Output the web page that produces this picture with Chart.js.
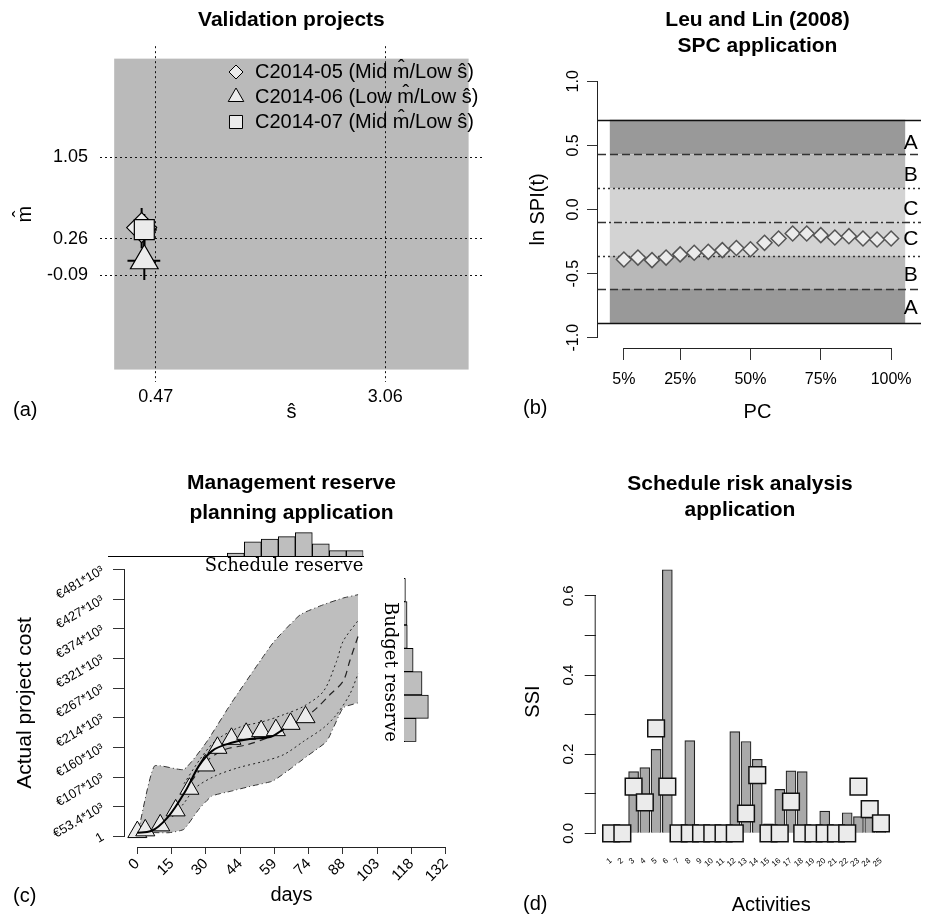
<!DOCTYPE html>
<html>
<head>
<meta charset="utf-8">
<script src="https://cdn.jsdelivr.net/npm/chart.js@4.4.1/dist/chart.umd.min.js"></script>
<style>
  html, body { margin: 0; padding: 0; background: #fff; }
  body { position: relative; width: 926px; height: 918px; overflow: hidden; }
  canvas { position: absolute; }
</style>
</head>
<body>
<canvas id="validation" width="500" height="430" style="left:0px;top:0px"></canvas>
<canvas id="spc" width="456" height="430" style="left:470px;top:0px"></canvas>
<canvas id="reserve" width="470" height="468" style="left:0px;top:450px"></canvas>
<canvas id="scheduleHist" width="280" height="60" style="left:100px;top:520px"></canvas>
<canvas id="budgetHist" width="50" height="190" style="left:380px;top:560px"></canvas>
<canvas id="sra" width="440" height="468" style="left:520px;top:450px"></canvas>
<script>
// (a) validation projects
const aSeries = ['C2014-05 (Mid m\u0302/Low \u015D)', 'C2014-06 (Low m\u0302/Low \u015D)', 'C2014-07 (Mid m\u0302/Low \u015D)'];
const aSHat = [0.31, 0.34, 0.34];
const aMHat = [0.37, 0.05, 0.35];
const aSLow = [0.15, 0.15, 0.2];
const aSHigh = [0.48, 0.52, 0.48];
const aMLow = [0.17, -0.135, 0.2];
const aMHigh = [0.56, 0.25, 0.5];
const aXTicks = [0.47, 3.06];
const aXTickLabels = ['0.47', '3.06'];
const aYTicks = [-0.09, 0.26, 1.05];
const aYTickLabels = ['-0.09', '0.26', '1.05'];
const aRegion = { sMin: 0, sMax: 4, mMin: -1, mMax: 2 };

// (b) SPC chart
const bPC = [5, 10, 15, 20, 25, 30, 35, 40, 45, 50, 55, 60, 65, 70, 75, 80, 85, 90, 95, 100];
const bLnSPI = [-0.39, -0.375, -0.395, -0.375, -0.35, -0.337, -0.33, -0.317, -0.30, -0.31,
                -0.26, -0.226, -0.187, -0.187, -0.20, -0.218, -0.208, -0.226, -0.234, -0.226];
const bXTicks = [5, 25, 50, 75, 100];
const bYTicks = [-1, -0.5, 0, 0.5, 1];
const bLimits = [0.70, 0.43, 0.165, -0.095, -0.36, -0.62, -0.885];
const bZoneLabels = ['A', 'B', 'C', 'C', 'B', 'A'];
const bZoneLabelY = [0.52, 0.27, 0.0, -0.23, -0.51, -0.77];

// (c) management reserve
const cDayTicks = [0, 14.67, 29.33, 44, 58.67, 73.33, 88, 102.67, 117.33, 132];
const cDayLabels = ['0', '15', '30', '44', '59', '74', '88', '103', '118', '132'];
const cCostTicks = [0, 53.4, 106.8, 160.2, 213.6, 267, 320.4, 373.8, 427.2, 480.6];
const cCostLabels = ['1', '\u20AC53.4*10\u00B3', '\u20AC107*10\u00B3', '\u20AC160*10\u00B3', '\u20AC214*10\u00B3',
                     '\u20AC267*10\u00B3', '\u20AC321*10\u00B3', '\u20AC374*10\u00B3', '\u20AC427*10\u00B3', '\u20AC481*10\u00B3'];
const cActualDays = [0, 3.4, 9.8, 16.4, 22.3, 29.1, 34.3, 40.3, 46.6, 53.0, 59.3, 65.6, 72.0];
const cActualCost = [7.7, 10.8, 19.8, 46.8, 85.8, 127.8, 159.6, 175.8, 184.8, 189.6, 191.4, 202.8, 214.8];
const cFitDays = [0, 5.9, 12.9, 20.6, 26.3, 31.9, 40.3, 48.8, 57.2, 62.8];
const cFitCost = [6.6, 9.6, 33.6, 81.6, 126.6, 153.6, 168.6, 175.8, 179.4, 193.8];
const cMedDays = [20, 25, 30.5, 37.5, 47.4, 57.2, 62.8, 69.8, 76.9, 82.5, 88.1, 90.9, 94.5];
const cMedCost = [80, 110, 138.6, 156.6, 165.6, 180.5, 195.6, 207.6, 231.6, 255.6, 279.6, 315.6, 360.6];
const cHiDays = [20, 27, 33.3, 43.1, 54.4, 62.8, 71.3, 79.7, 85.3, 88.1, 94.5];
const cHiCost = [95, 140, 171.6, 195.6, 207.6, 219.6, 234.6, 261.6, 315.6, 351.6, 389];
const cLoDays = [15, 20, 24.9, 33.2, 43.1, 54.4, 62.8, 71.3, 79.7, 85.3, 90.9, 94.5];
const cLoCost = [35, 60, 87.6, 108.6, 123.6, 135.6, 147.6, 171.6, 195.6, 219.6, 255.6, 293];
const cBandHiDays = [0, 7.3, 19.9, 29.4, 40.3, 53, 58.6, 69.8, 79.7, 88.1, 94.5];
const cBandHiCost = [0, 126.6, 120.6, 168.6, 240.7, 318.6, 351.6, 399.6, 417.6, 429.6, 435.6];
const cBandLoDays = [0, 2.4, 13.6, 19.9, 26.3, 31.9, 40.3, 48.8, 57.9, 64.2, 72.7, 81.1, 88.1, 94.5];
const cBandLoCost = [0, 6.6, 6.6, 12.6, 48.6, 72.6, 81.6, 90.6, 99.6, 117.6, 144.6, 171.6, 231.6, 240.6];
const cSchedBins = ['1', '2', '3', '4', '5', '6', '7', '8', '9', '10', '11', '12', '13', '14', '15'];
const cSchedCounts = [0, 0, 0, 0, 0, 0, 0, 1.2, 6.1, 7.3, 8.3, 10, 5.2, 2.3, 2.3];
const cBudgetBins = ['7', '6', '5', '4', '3', '2', '1'];
const cBudgetCounts = [0.6, 1.3, 1.4, 3.9, 7.7, 10.4, 5.2];

// (d) schedule risk analysis
const dActivities = ['1', '2', '3', '4', '5', '6', '7', '8', '9', '10', '11', '12', '13',
                     '14', '15', '16', '17', '18', '19', '20', '21', '22', '23', '24', '25'];
const dSSIBars = [0, 0, 0.156, 0.166, 0.212, 0.666, 0, 0.234, 0, 0, 0, 0.257, 0.232,
                  0.187, 0.024, 0.111, 0.158, 0.156, 0, 0.056, 0, 0.052, 0.042, 0.04, 0.004];
const dSSIMarks = [0, 0, 0.118, 0.078, 0.265, 0.118, 0, 0, 0, 0, 0, 0, 0.05,
                   0.147, 0, 0, 0.08, 0, 0, 0, 0, 0, 0.118, 0.061, 0.025];
const dYTicks = [0, 0.1, 0.2, 0.3, 0.4, 0.5, 0.6];
const dYTickLabels = ['0.0', '', '0.2', '', '0.4', '', '0.6'];

const SANS = "'Liberation Sans', Arial, Helvetica, sans-serif";
const SERIF = "'DejaVu Serif', serif";
Chart.defaults.font.family = SANS;
Chart.defaults.color = '#000';
Chart.defaults.animation = false;
Chart.defaults.events = [];
Chart.defaults.plugins.legend.display = false;
Chart.defaults.plugins.tooltip.enabled = false;

const pairs = (xs, ys) => xs.map((x, i) => ({ x: x, y: ys[i] }));

// axis line only from first to last tick, like base R
const axisLines = {
  id: 'axisLines',
  afterDatasetsDraw(chart, args, opts) {
    if (!opts.scales) return;
    const { ctx, chartArea } = chart;
    ctx.save();
    ctx.strokeStyle = '#222';
    ctx.lineWidth = 1;
    for (const id of opts.scales) {
      const s = chart.scales[id];
      const a = s.getPixelForValue(s.ticks[0].value);
      const b = s.getPixelForValue(s.ticks[s.ticks.length - 1].value);
      ctx.beginPath();
      if (s.isHorizontal()) {
        ctx.moveTo(a, chartArea.bottom + 0.5);
        ctx.lineTo(b, chartArea.bottom + 0.5);
      } else {
        ctx.moveTo(chartArea.left - 0.5, a);
        ctx.lineTo(chartArea.left - 0.5, b);
      }
      ctx.stroke();
    }
    ctx.restore();
  }
};

// loose text: panel tags and side labels
const notes = {
  id: 'notes',
  afterDraw(chart, args, opts) {
    if (!opts.items) return;
    const ctx = chart.ctx;
    for (const n of opts.items) {
      ctx.save();
      ctx.font = n.font || ('20px ' + SANS);
      ctx.fillStyle = '#000';
      ctx.textAlign = n.align || 'left';
      ctx.textBaseline = 'middle';
      ctx.translate(n.x, n.y);
      if (n.rotation) ctx.rotate(n.rotation * Math.PI / 180);
      ctx.fillText(n.text, 0, 0);
      ctx.restore();
    }
  }
};
Chart.register(axisLines, notes);

function drawSymbol(ctx, style, x, y, r) {
  ctx.beginPath();
  if (style === 'rectRot') {
    ctx.moveTo(x, y - r); ctx.lineTo(x + r, y); ctx.lineTo(x, y + r); ctx.lineTo(x - r, y);
  } else if (style === 'triangle') {
    ctx.moveTo(x, y - r); ctx.lineTo(x + r * 0.866, y + r / 2); ctx.lineTo(x - r * 0.866, y + r / 2);
  } else {
    const h = r * Math.SQRT1_2;
    ctx.rect(x - h, y - h, 2 * h, 2 * h);
  }
  ctx.closePath();
  ctx.fillStyle = '#ebebeb';
  ctx.fill();
  ctx.strokeStyle = '#000';
  ctx.lineWidth = 1;
  ctx.stroke();
}

// ---------- (a) ----------
const aStyles = ['rectRot', 'triangle', 'rect'];
const aRadius = [15, 16, 14.1];
const aLegendRadius = [7, 9, 9.2];

const aData = [];
[2, 1, 0].forEach(i => aData.push({
  label: aSeries[i],
  data: [{ x: aSHat[i], y: aMHat[i] }],
  pointStyle: aStyles[i],
  pointRadius: aRadius[i],
  backgroundColor: '#ebebeb',
  borderColor: '#000',
  borderWidth: 1.2
}));
aSeries.forEach((s, i) => {
  aData.push({ data: [{ x: aSLow[i], y: aMHat[i] }, { x: aSHigh[i], y: aMHat[i] }],
    showLine: true, pointRadius: 0, borderColor: '#000', borderWidth: 2 });
  aData.push({ data: [{ x: aSHat[i], y: aMLow[i] }, { x: aSHat[i], y: aMHigh[i] }],
    showLine: true, pointRadius: 0, borderColor: '#000', borderWidth: 2 });
});

const aRegionPlugin = {
  id: 'aRegion',
  beforeDraw(chart) {
    const { ctx, scales: { x, y } } = chart;
    const l = x.getPixelForValue(aRegion.sMin), r = x.getPixelForValue(aRegion.sMax);
    const t = y.getPixelForValue(aRegion.mMax), b = y.getPixelForValue(aRegion.mMin);
    ctx.save();
    ctx.fillStyle = '#bababa';
    ctx.fillRect(l, t, r - l, b - t);
    ctx.restore();
  }
};

const aLegend = {
  id: 'aLegend',
  afterDraw(chart) {
    const ctx = chart.ctx;
    const rows = [72, 97, 122];
    ctx.save();
    aSeries.forEach((label, i) => {
      drawSymbol(ctx, aStyles[i], 236, rows[i], aLegendRadius[i]);
      ctx.font = '20px ' + SANS;
      ctx.textBaseline = 'middle';
      ctx.textAlign = 'left';
      ctx.fillStyle = '#000';
      ctx.fillText(label, 255, rows[i]);
    });
    ctx.restore();
  }
};

new Chart(document.getElementById('validation'), {
  type: 'scatter',
  data: { datasets: aData },
  options: {
    responsive: false,
    layout: { padding: { left: 0, right: 7, top: 0, bottom: 0 } },
    plugins: {
      title: { display: true, text: 'Validation projects', fullSize: false,
        font: { size: 21, weight: 'bold' }, padding: { top: 8, bottom: 13 } },
      notes: { items: [{ text: '(a)', x: 13, y: 410 }] }
    },
    scales: {
      x: {
        type: 'linear', min: -0.16, max: 4.16,
        afterBuildTicks: s => { s.ticks = aXTicks.map(v => ({ value: v })); },
        ticks: { font: { size: 18 }, padding: 4, maxRotation: 0, minRotation: 0,
          callback: (v, i) => aXTickLabels[i] },
        grid: { color: '#111', lineWidth: 1, drawTicks: false },
        border: { display: false, dash: [2, 3] },
        title: { display: true, text: '\u015D', font: { size: 20 }, padding: { top: 0, bottom: 6 } },
        afterFit: s => { s.height = 48; }
      },
      y: {
        type: 'linear', min: -1.12, max: 2.12,
        afterBuildTicks: s => { s.ticks = aYTicks.map(v => ({ value: v })); },
        ticks: { font: { size: 18 }, padding: 12, callback: (v, i) => aYTickLabels[i] },
        grid: { color: '#111', lineWidth: 1, drawTicks: false },
        border: { display: false, dash: [2, 3] },
        title: { display: true, text: 'm\u0302', font: { size: 20 }, padding: { top: 13, bottom: 0 } },
        afterFit: s => { s.width = 100; }
      }
    }
  },
  plugins: [aRegionPlugin, aLegend]
});

// ---------- (b) ----------
const bZoneColors = ['#999999', '#b8b8b8', '#d3d3d3', '#d3d3d3', '#b8b8b8', '#999999'];
const bLineDash = [[], [8, 4], [2, 3], [8, 3, 2, 3], [2, 3], [8, 4], []];
const bLineColor = ['#111', '#333', '#333', '#333', '#333', '#333', '#111'];

const bZones = {
  id: 'spcZones',
  beforeDraw(chart) {
    const { ctx, scales: { x, y } } = chart;
    const l = x.getPixelForValue(0), r = x.getPixelForValue(105);
    ctx.save();
    for (let i = 0; i < bLimits.length - 1; i++) {
      const t = y.getPixelForValue(bLimits[i]), b = y.getPixelForValue(bLimits[i + 1]);
      ctx.fillStyle = bZoneColors[i];
      ctx.fillRect(l, t, r - l, b - t);
    }
    ctx.restore();
  },
  beforeDatasetsDraw(chart) {
    const { ctx, chartArea, scales: { y } } = chart;
    ctx.save();
    bLimits.forEach((v, i) => {
      const py = Math.round(y.getPixelForValue(v)) + 0.5;
      ctx.beginPath();
      ctx.setLineDash(bLineDash[i]);
      ctx.strokeStyle = bLineColor[i];
      ctx.lineWidth = 1.6;
      ctx.moveTo(chartArea.left, py);
      ctx.lineTo(chartArea.right + 4, py);
      ctx.stroke();
    });
    ctx.restore();
  },
  afterDatasetsDraw(chart) {
    const { ctx, scales: { x, y } } = chart;
    ctx.save();
    ctx.font = '21px ' + SANS;
    ctx.fillStyle = '#000';
    ctx.textAlign = 'center';
    ctx.textBaseline = 'middle';
    bZoneLabels.forEach((t, i) => ctx.fillText(t, x.getPixelForValue(107), y.getPixelForValue(bZoneLabelY[i])));
    ctx.restore();
  }
};

new Chart(document.getElementById('spc'), {
  type: 'scatter',
  data: {
    datasets: [{
      label: 'ln SPI(t)',
      data: pairs(bPC, bLnSPI),
      pointStyle: 'rectRot',
      pointRadius: 7.5,
      backgroundColor: '#ebebeb',
      borderColor: '#555',
      borderWidth: 1.5
    }]
  },
  options: {
    responsive: false,
    layout: { padding: { left: 0, right: 2, top: 0, bottom: 0 } },
    plugins: {
      title: { display: true, text: ['Leu and Lin (2008)', 'SPC application'], fullSize: false,
        font: { size: 21, weight: 'bold', lineHeight: 1.2 }, padding: { top: 8, bottom: 12.6 } },
      axisLines: { scales: ['x', 'y'] },
      notes: { items: [{ text: '(b)', x: 53, y: 408 }] }
    },
    scales: {
      x: {
        type: 'linear', min: -4.2, max: 109.2,
        afterBuildTicks: s => { s.ticks = bXTicks.map(v => ({ value: v })); },
        ticks: { font: { size: 16 }, padding: 10, maxRotation: 0, minRotation: 0, callback: v => v + '%' },
        grid: { drawOnChartArea: false, color: '#333', tickLength: 12 },
        border: { display: false },
        title: { display: true, text: 'PC', font: { size: 20 }, padding: { top: 0, bottom: 6 } },
        afterFit: s => { s.height = 82; }
      },
      y: {
        type: 'linear', min: -1.08, max: 1.08,
        afterBuildTicks: s => { s.ticks = bYTicks.map(v => ({ value: v })); },
        ticks: { font: { size: 16 }, padding: 0, minRotation: 90, maxRotation: 90, crossAlign: 'center',
          callback: v => v.toFixed(1) },
        grid: { drawOnChartArea: false, color: '#333', tickLength: 11 },
        border: { display: false },
        title: { display: true, text: 'ln SPI(t)', font: { size: 20 }, padding: { top: 56, bottom: 0 } },
        afterFit: s => { s.width = 128; }
      }
    }
  },
  plugins: [bZones]
});

// ---------- (c) ----------
const bandLine = { borderColor: '#333', borderWidth: 1, borderDash: [1, 3, 6, 3], pointRadius: 0, tension: 0.15 };

new Chart(document.getElementById('reserve'), {
  type: 'line',
  data: {
    datasets: [
      { label: 'fit', data: pairs(cFitDays, cFitCost), borderColor: '#000', borderWidth: 2,
        pointRadius: 0, cubicInterpolationMode: 'monotone', fill: false },
      { label: 'Actual project cost', data: pairs(cActualDays, cActualCost), showLine: false,
        pointStyle: 'triangle', pointRadius: 11, backgroundColor: '#ebebeb', borderColor: '#000',
        borderWidth: 1, fill: false },
      { label: 'median', data: pairs(cMedDays, cMedCost), borderColor: '#222', borderWidth: 1.2,
        borderDash: [7, 5], pointRadius: 0, tension: 0.3, fill: false },
      { label: 'upper', data: pairs(cHiDays, cHiCost), borderColor: '#222', borderWidth: 1,
        borderDash: [2, 3], pointRadius: 0, tension: 0.3, fill: false },
      { label: 'lower', data: pairs(cLoDays, cLoCost), borderColor: '#222', borderWidth: 1,
        borderDash: [2, 3], pointRadius: 0, tension: 0.3, fill: false },
      Object.assign({ label: 'band max', data: pairs(cBandHiDays, cBandHiCost), fill: '+1',
        backgroundColor: '#bebebe' }, bandLine),
      Object.assign({ label: 'band min', data: pairs(cBandLoDays, cBandLoCost), fill: false }, bandLine)
    ]
  },
  options: {
    responsive: false,
    layout: { padding: { left: 0, right: 7, top: 0, bottom: 0 } },
    plugins: {
      filler: { drawTime: 'beforeDatasetsDraw', propagate: false },
      title: { display: true, text: ['Management reserve', 'planning application'], fullSize: false,
        font: { size: 21, weight: 'bold', lineHeight: 1.43 }, padding: { top: 18, bottom: 31 } },
      axisLines: { scales: ['x', 'y'] },
      notes: { items: [
        { text: '(c)', x: 13, y: 446 },
        { text: 'Budget reserve', x: 390, y: 222, rotation: 90, align: 'center', font: '18px ' + SERIF }
      ] }
    },
    scales: {
      x: {
        type: 'linear', min: -5.28, max: 137.28,
        afterBuildTicks: s => { s.ticks = cDayTicks.map(v => ({ value: v })); },
        ticks: { font: { size: 15 }, padding: 1, minRotation: 45, maxRotation: 45, autoSkip: false,
          callback: (v, i) => cDayLabels[i] },
        grid: { drawOnChartArea: false, color: '#333', tickLength: 7 },
        border: { display: false },
        title: { display: true, text: 'days', font: { size: 20 }, padding: { top: 0, bottom: 11 } },
        afterFit: s => { s.height = 71; }
      },
      y: {
        type: 'linear', min: -19.2, max: 499.8,
        afterBuildTicks: s => { s.ticks = cCostTicks.map(v => ({ value: v })); },
        ticks: { font: { size: 13 }, padding: 10, minRotation: 30, maxRotation: 30, autoSkip: false,
          callback: (v, i) => cCostLabels[i] },
        grid: { drawOnChartArea: false, color: '#333', tickLength: 12 },
        border: { display: false },
        title: { display: true, text: 'Actual project cost', font: { size: 21 }, padding: { top: 13, bottom: 0 } },
        afterFit: s => { s.width = 125; }
      }
    }
  }
});

new Chart(document.getElementById('scheduleHist'), {
  type: 'bar',
  data: {
    labels: cSchedBins,
    datasets: [{ label: 'Schedule reserve', data: cSchedCounts, backgroundColor: '#bebebe', borderColor: '#000',
      borderWidth: 1, barPercentage: 1, categoryPercentage: 1 }]
  },
  options: {
    responsive: false,
    layout: { padding: { left: 8.3, right: 16.7, top: 12, bottom: 0 } },
    scales: {
      x: {
        ticks: { display: false },
        grid: { display: false, drawTicks: false },
        border: { display: true, color: '#000', width: 1 },
        title: { display: true, text: 'Schedule reserve', align: 'end', color: '#000',
          font: { family: SERIF, size: 18 }, padding: { top: 0, bottom: 3 } },
        afterFit: s => { s.height = 24; }
      },
      y: { display: false, min: 0, max: 10.3 }
    }
  }
});

new Chart(document.getElementById('budgetHist'), {
  type: 'bar',
  data: {
    labels: cBudgetBins,
    datasets: [{ label: 'Budget reserve', data: cBudgetCounts, backgroundColor: '#bebebe', borderColor: '#000',
      borderWidth: 1, barPercentage: 1, categoryPercentage: 1 }]
  },
  options: {
    indexAxis: 'y',
    responsive: false,
    layout: { padding: { left: 24, right: 0, top: 18.3, bottom: 8.3 } },
    scales: {
      x: { display: false, min: 0, max: 11.1 },
      y: {
        ticks: { display: false },
        grid: { display: false, drawTicks: false },
        border: { display: true, color: '#000', width: 1 },
        afterFit: s => { s.width = 0; }
      }
    }
  }
});

// ---------- (d) ----------
new Chart(document.getElementById('sra'), {
  type: 'bar',
  data: {
    datasets: [
      { type: 'scatter', label: 'SSI estimate', data: dSSIMarks.map((v, i) => ({ x: i + 1, y: v })),
        pointStyle: 'rect', pointRadius: 11.8, backgroundColor: '#ebebeb', borderColor: '#111', borderWidth: 1.5 },
      { type: 'bar', label: 'SSI', data: dSSIBars.map((v, i) => ({ x: i + 1, y: v })),
        backgroundColor: '#a9a9a9', borderColor: '#222', borderWidth: 1.2, barThickness: 10 }
    ]
  },
  options: {
    responsive: false,
    layout: { padding: 0 },
    plugins: {
      title: { display: true, text: ['Schedule risk analysis', 'application'],
        font: { size: 21, weight: 'bold', lineHeight: 1.22 }, padding: { top: 21.5, bottom: 36.3 } },
      axisLines: { scales: ['y'] },
      notes: { items: [{ text: '(d)', x: 3, y: 454 }] }
    },
    scales: {
      x: {
        type: 'linear', offset: false, min: -0.371, max: 30.85,
        afterBuildTicks: s => { s.ticks = dActivities.map((a, i) => ({ value: i + 1 })); },
        ticks: { font: { size: 8 }, padding: 12, minRotation: 40, maxRotation: 40, autoSkip: false,
          callback: (v, i) => dActivities[i] },
        grid: { display: false, drawTicks: false },
        border: { display: false },
        title: { display: true, text: 'Activities', font: { size: 20 }, padding: { top: 0, bottom: 1 } },
        afterFit: s => { s.height = 74; }
      },
      y: {
        type: 'linear', min: -0.027, max: 0.693,
        afterBuildTicks: s => { s.ticks = dYTicks.map(v => ({ value: v })); },
        ticks: { font: { size: 15 }, padding: 5.6, minRotation: 90, maxRotation: 90, crossAlign: 'center',
          callback: (v, i) => dYTickLabels[i] },
        grid: { drawOnChartArea: false, color: '#222', tickLength: 11 },
        border: { display: false },
        title: { display: true, text: 'SSI', font: { size: 20 }, padding: { top: 1, bottom: 0 } },
        afterFit: s => { s.width = 75.7; }
      }
    }
  }
});
</script>
</body>
</html>
